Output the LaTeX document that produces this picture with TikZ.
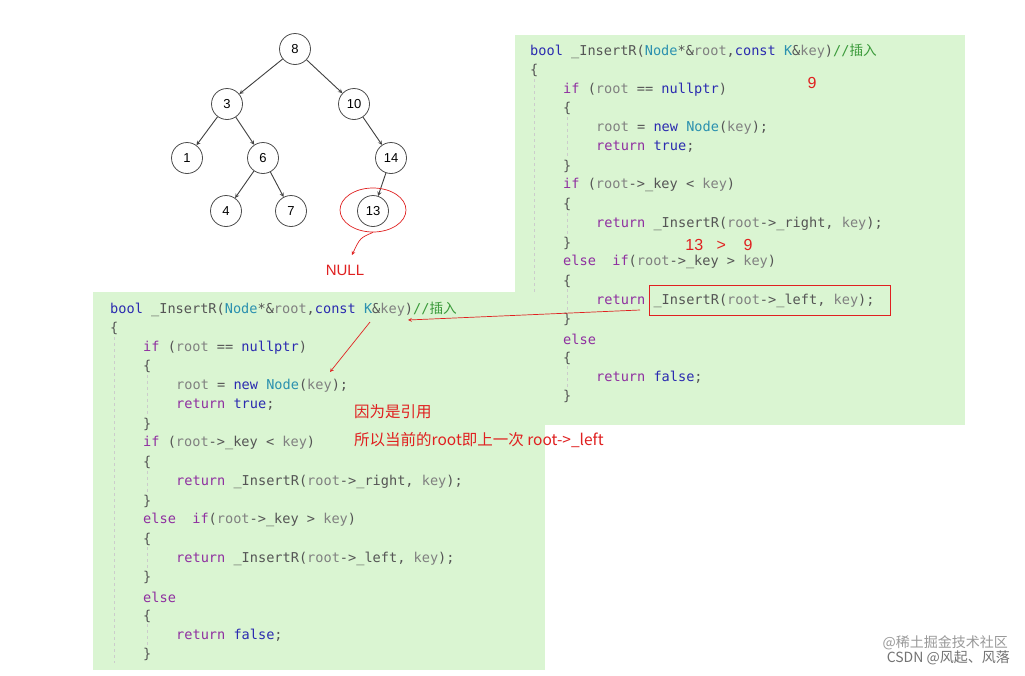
\documentclass[tikz,border=0pt]{standalone}
\usepackage{fontspec}
\usetikzlibrary{shapes.geometric}
\setmainfont{Liberation Sans}
\setmonofont{DejaVu Sans Mono}
\newfontfamily\cjk{Noto Sans CJK SC}
\begin{document}
\definecolor{bgc}{HTML}{DAF5D2}
\definecolor{kwc}{HTML}{2B2BB0}
\definecolor{ctl}{HTML}{8F30A0}
\definecolor{typ}{HTML}{2B91AF}
\definecolor{var}{HTML}{808080}
\definecolor{fn}{HTML}{555555}
\definecolor{cmt}{HTML}{3A9A3A}
\definecolor{ann}{HTML}{E02020}
\newcommand\K[1]{\textcolor{kwc}{#1}}
\newcommand\C[1]{\textcolor{ctl}{#1}}
\newcommand\T[1]{\textcolor{typ}{#1}}
\newcommand\V[1]{\textcolor{var}{#1}}
\newcommand\F[1]{\textcolor{fn}{#1}}
\newcommand\G[1]{\textcolor{cmt}{#1}}
\newcommand\codeblock[3]{%
 \node[code] (#3a) at (#1,#2) {\K{bool} \F{\_InsertR(}\T{Node}\F{*\&}\V{root}\F{,}\K{const} \T{K}\F{\&}\V{key}\F{)}\G{//{\cjk 插入}}};
 \node[code] (#3b) at (#1,#2+19.2) {\F{\{}};
 \node[code] (#3c) at (#1+33,#2+2*19.2) {\C{if} \F{(}\V{root} \F{==} \K{nullptr}\F{)}};
 \node[code] (#3d) at (#1+33,#2+3*19.2) {\F{\{}};
 \node[code] (#3e) at (#1+66,#2+4*19.2) {\V{root} \F{=} \K{new} \T{Node}\F{(}\V{key}\F{);}};
 \node[code] (#3f) at (#1+66,#2+5*19.2) {\C{return} \K{true}\F{;}};
 \node[code] (#3g) at (#1+33,#2+6*19.2) {\F{\}}};
 \node[code] (#3h) at (#1+33,#2+7*19.2) {\C{if} \F{(}\V{root}\F{->\_key <} \V{key}\F{)}};
 \node[code] (#3i) at (#1+33,#2+8*19.2) {\F{\{}};
 \node[code] (#3j) at (#1+66,#2+9*19.2) {\C{return} \F{\_InsertR(}\V{root}\F{->\_right,} \V{key}\F{);}};
 \node[code] (#3k) at (#1+33,#2+10*19.2) {\F{\}}};
 \node[code] (#3l) at (#1+33,#2+11*19.2) {\C{else}\ \ \C{if}\F{(}\V{root}\F{->\_key >} \V{key}\F{)}};
 \node[code] (#3m) at (#1+33,#2+12*19.2) {\F{\{}};
 \node[code] (#3n) at (#1+66,#2+13*19.2) {\C{return} \F{\_InsertR(}\V{root}\F{->\_left,} \V{key}\F{);}};
 \node[code] (#3o) at (#1+33,#2+14*19.2) {\F{\}}};
 \node[code] (#3p) at (#1+33,#2+15*19.2) {\C{else}};
 \node[code] (#3q) at (#1+33,#2+16*19.2) {\F{\{}};
 \node[code] (#3r) at (#1+66,#2+17*19.2) {\C{return} \K{false}\F{;}};
 \node[code] (#3s) at (#1+33,#2+18*19.2) {\F{\}}};
 \draw[guide] (#1+4,#2+28) -- (#1+4,#2+18*19.2+8);
 \draw[guide] (#1+37,#2+3*19.2+8) -- (#1+37,#2+6*19.2-8);
 \draw[guide] (#1+37,#2+8*19.2+8) -- (#1+37,#2+10*19.2-8);
 \draw[guide] (#1+37,#2+12*19.2+8) -- (#1+37,#2+14*19.2-8);
 \draw[guide] (#1+37,#2+16*19.2+8) -- (#1+37,#2+18*19.2-8);
}
\begin{tikzpicture}[x=1pt,y=-1pt,
  code/.style={anchor=west,inner sep=0pt,font=\ttfamily\fontsize{13.6}{14}\selectfont},
  guide/.style={draw=black!20,dashed,line width=0.5pt},
  tn/.style={circle,draw=black!70,line width=0.8pt,minimum size=31pt,inner sep=0pt,fill=white,font=\fontsize{13}{14}\selectfont},
  te/.style={-stealth,draw=black!75,line width=0.9pt},
  rd/.style={draw=ann,line width=0.7pt},
  anntext/.style={text=ann,inner sep=0pt}]
\path[use as bounding box,fill=white] (0,0) rectangle (1025,675);
% boxes
\fill[bgc] (515,35) rectangle (965,425);
\codeblock{530}{51}{r}
\fill[bgc] (93,292) rectangle (545,670);
\codeblock{110}{309}{l}
% tree
\node[tn] (n8) at (295,49) {8};
\node[tn] (n3) at (227,104) {3};
\node[tn] (n10) at (354,104) {10};
\node[tn] (n1) at (187,158) {1};
\node[tn] (n6) at (263,158) {6};
\node[tn] (n14) at (391,158) {14};
\node[tn] (n4) at (226,211) {4};
\node[tn] (n7) at (291,211) {7};
\node[tn] (n13) at (373,211) {13};
\draw[te] (n8) -- (n3); \draw[te] (n8) -- (n10);
\draw[te] (n3) -- (n1); \draw[te] (n3) -- (n6);
\draw[te] (n10) -- (n14); \draw[te] (n6) -- (n4);
\draw[te] (n6) -- (n7); \draw[te] (n14) -- (n13);
\node[rd,ellipse,minimum width=66pt,minimum height=44pt,inner sep=0pt] (ell) at (373,210) {};
\node[anntext,font=\fontsize{15}{16}\selectfont] (null) at (345,270) {NULL};
\draw[rd,-stealth] (ell.south) .. controls (360,238) .. (352,255);
% annotations
\node[anntext,font=\fontsize{16}{16}\selectfont] (nine) at (812,83) {9};
\node[anntext,font=\fontsize{16}{16}\selectfont] (cmp) at (719,245) {13\ \ \ >\ \ \ \ 9};
\node[rd,minimum width=241pt,minimum height=30pt,inner sep=0pt] (box) at (769.5,300) {};
\coordinate (a1) at (640,310);
\coordinate (a2) at (408,320);
\draw[rd,-stealth] (a1) -- (a2);
\coordinate (b1) at (370,322);
\coordinate (b2) at (330,372);
\draw[rd,-stealth] (b1) -- (b2);
\node[anntext,anchor=west,font=\cjk\fontsize{15.5}{16}\selectfont] (t1) at (354,412) {因为是引用};
\node[anntext,anchor=west,font=\cjk\fontsize{15.5}{16}\selectfont] (t2) at (354,440) {所以当前的root即上一次 root->\_left};
\node[anchor=east,text=black!40,font=\cjk\fontsize{14}{14}\selectfont,inner sep=0pt] (w1) at (1008,643) {@稀土掘金技术社区};
\node[anchor=east,text=black!55,font=\cjk\fontsize{14}{14}\selectfont,inner sep=0pt] (w2) at (1010,658) {CSDN @风起、风落};
\end{tikzpicture}
\end{document}
